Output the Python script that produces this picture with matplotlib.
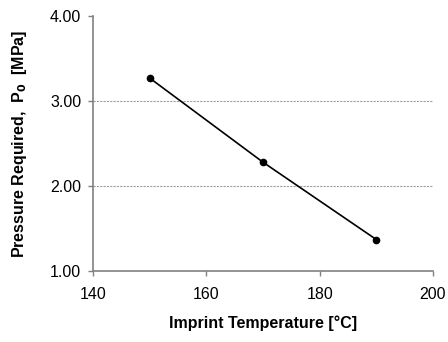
import matplotlib
matplotlib.use('Agg')
import matplotlib.pyplot as plt

# Data
temperature = [150, 170, 190]
pressure = [3.27, 2.28, 1.37]
x_ticks = [140, 160, 180, 200]
y_ticks = [1.00, 2.00, 3.00, 4.00]

plt.rcParams['font.family'] = ['Liberation Sans', 'DejaVu Sans']

fig = plt.figure(figsize=(4.48, 3.42), dpi=100)
ax = fig.add_axes([0.2076, 0.2076, 0.7589, 0.7456])

ax.plot(temperature, pressure, color='black', linewidth=1.2,
        marker='o', markersize=4.5)

ax.set_xlim(140, 200)
ax.set_ylim(1.0, 4.0)
ax.set_xticks(x_ticks)
ax.set_yticks(y_ticks)
ax.set_yticklabels(['%.2f' % v for v in y_ticks])
ax.tick_params(direction='out', length=3.5, width=1, color='#808080',
               labelsize=11.5)
ax.tick_params(axis='x', pad=8)
ax.tick_params(axis='y', pad=5)

# dashed gridlines at the inner y ticks
for v in y_ticks[1:-1]:
    ax.axhline(v, color='#a0a0a0', linestyle=(0, (2, 1)), linewidth=0.8, zorder=0)

for side in ['top', 'right']:
    ax.spines[side].set_visible(False)
for side in ['left', 'bottom']:
    ax.spines[side].set_color('#808080')
    ax.spines[side].set_linewidth(1.2)

ax.set_xlabel('Imprint Temperature [°C]', fontsize=11.5, fontweight='bold', labelpad=10)
ax.set_ylabel('Pressure Required,  P$_\\mathbf{0}$  [MPa]', fontsize=11.5,
              fontweight='bold', labelpad=15)

fig.savefig('out.png', dpi=100)
